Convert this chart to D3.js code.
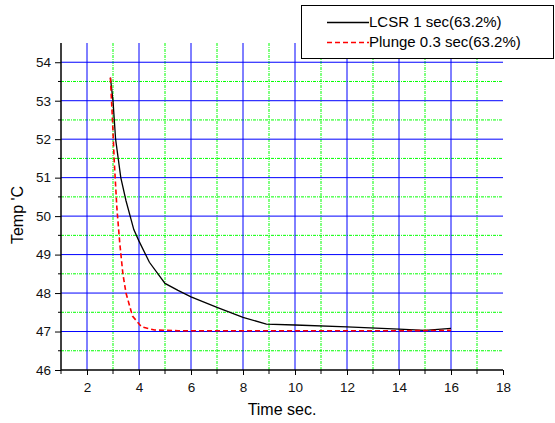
<!DOCTYPE html>
<html>
<head>
<meta charset="utf-8">
<script src="https://cdn.jsdelivr.net/npm/d3@7"></script>
<style>
body { margin: 0; background: #fff; }
text { font-family: Arial, "Liberation Sans", sans-serif; }
</style>
</head>
<body>
<div id="canvas"></div>
<script>
"use strict"

/* Data */
let lcsrTime = [2.9, 3.0, 3.1, 3.3, 3.5, 3.8, 4.0, 4.4, 5.0, 5.5, 6.0, 7.0, 8.0, 8.9, 10, 12, 14, 15, 16];
let lcsrTemp = [53.6, 53.0, 52.0, 51.0, 50.4, 49.65, 49.35, 48.8, 48.25, 48.07, 47.9, 47.63, 47.37, 47.19, 47.17, 47.12, 47.06, 47.03, 47.08];
let plungeTime = [2.9, 2.98, 3.05, 3.15, 3.26, 3.38, 3.5, 3.75, 4.1, 4.6, 5.5, 8, 10, 12, 14, 16];
let plungeTemp = [53.6, 52.5, 51.4, 50.2, 49.3, 48.5, 48.0, 47.4, 47.12, 47.04, 47.02, 47.02, 47.02, 47.02, 47.02, 47.03];
let xMajor = [2, 4, 6, 8, 10, 12, 14, 16, 18];
let xMinor = [1, 3, 5, 7, 9, 11, 13, 15, 17];
let yMajor = [46, 47, 48, 49, 50, 51, 52, 53, 54];
let yMinor = [46.5, 47.5, 48.5, 49.5, 50.5, 51.5, 52.5, 53.5];
let legendNames = ["LCSR 1 sec(63.2%)", "Plunge 0.3 sec(63.2%)"];

/* Drawing config */
let svgWidth = 555;
let svgHeight = 423;
let plotLeft = 61, plotRight = 503, plotTop = 43, plotBottom = 370;

let svg = d3.select("#canvas")
    .append("svg")
    .attr("width", svgWidth)
    .attr("height", svgHeight);

let xScale = d3.scaleLinear().domain([1, 18]).range([plotLeft, plotRight]);
let yScale = d3.scaleLinear().domain([46, 54.5]).range([plotBottom, plotTop]);

/* minor grid (green dotted) */
svg.append("g").selectAll("line")
    .data(xMinor.filter(d => d > 1))
    .join("line")
    .attr("x1", d => xScale(d)).attr("x2", d => xScale(d))
    .attr("y1", plotTop).attr("y2", plotBottom)
    .attr("stroke", "#00ff00").attr("stroke-dasharray", "3,1,1,1");

svg.append("g").selectAll("line")
    .data(yMinor)
    .join("line")
    .attr("x1", plotLeft).attr("x2", plotRight)
    .attr("y1", d => yScale(d)).attr("y2", d => yScale(d))
    .attr("stroke", "#00ff00").attr("stroke-dasharray", "3,1,1,1");

/* major grid (blue) */
svg.append("g").selectAll("line")
    .data(xMajor.filter(d => d < 18))
    .join("line")
    .attr("x1", d => xScale(d)).attr("x2", d => xScale(d))
    .attr("y1", plotTop).attr("y2", plotBottom)
    .attr("stroke", "#0000ff");

svg.append("g").selectAll("line")
    .data(yMajor.filter(d => d > 46))
    .join("line")
    .attr("x1", plotLeft).attr("x2", plotRight)
    .attr("y1", d => yScale(d)).attr("y2", d => yScale(d))
    .attr("stroke", "#0000ff");

/* series */
let line = d3.line()
    .x(d => xScale(d[0]))
    .y(d => yScale(d[1]));

svg.append("path")
    .datum(d3.zip(lcsrTime, lcsrTemp))
    .attr("d", line)
    .attr("fill", "none")
    .attr("stroke", "black")
    .attr("stroke-width", 1.3);

svg.append("path")
    .datum(d3.zip(plungeTime, plungeTemp))
    .attr("d", line)
    .attr("fill", "none")
    .attr("stroke", "#ff0000")
    .attr("stroke-width", 1.6)
    .attr("stroke-dasharray", "5,3");

/* axes */
let xAxis = svg.append("g")
    .attr("transform", "translate(0," + plotBottom + ")")
    .call(d3.axisBottom(xScale).tickValues(xMajor).tickSize(5).tickSizeOuter(0).tickFormat(d3.format("d")));
xAxis.append("g").selectAll("line")
    .data(xMinor)
    .join("line")
    .attr("x1", d => xScale(d)).attr("x2", d => xScale(d))
    .attr("y1", 0).attr("y2", 4)
    .attr("stroke", "black");

let yAxis = svg.append("g")
    .attr("transform", "translate(" + plotLeft + ",0)")
    .call(d3.axisLeft(yScale).tickValues(yMajor).tickSize(6).tickSizeOuter(0).tickFormat(d3.format("d")));
yAxis.append("g").selectAll("line")
    .data(yMinor)
    .join("line")
    .attr("x1", 0).attr("x2", -3)
    .attr("y1", d => yScale(d)).attr("y2", d => yScale(d))
    .attr("stroke", "black");

svg.selectAll(".domain").attr("stroke-width", 1.5);
xAxis.selectAll(".tick text").attr("font-size", 13.5).attr("fill", "#111").attr("dy", "1.05em");
yAxis.selectAll(".tick text").attr("font-size", 13.5).attr("fill", "#111").attr("x", -10);
yAxis.select(".domain").attr("d", "M0," + plotBottom + "V" + plotTop);
xAxis.select(".domain").attr("d", "M" + plotLeft + ",0H" + plotRight);

/* axis labels */
svg.append("text")
    .attr("x", (plotLeft + plotRight) / 2)
    .attr("y", 415)
    .attr("text-anchor", "middle")
    .attr("font-size", 16)
    .text("Time sec.");

svg.append("text")
    .attr("transform", "translate(23,215) rotate(-90)")
    .attr("text-anchor", "middle")
    .attr("font-size", 16)
    .text("Temp 'C");

/* legend */
let legend = svg.append("g");
legend.append("rect")
    .attr("x", 301.5).attr("y", 5.5)
    .attr("width", 252).attr("height", 53)
    .attr("fill", "white")
    .attr("stroke", "black");

let legendStyles = [
    { color: "black", dash: null, width: 1.3 },
    { color: "#ff0000", dash: "5,3", width: 1.5 }
];
for (let i = 0; i < 2; i++) {
    legend.append("line")
        .attr("x1", 327).attr("x2", 369)
        .attr("y1", 22.5 + i * 20).attr("y2", 22.5 + i * 20)
        .attr("stroke", legendStyles[i].color)
        .attr("stroke-width", legendStyles[i].width)
        .attr("stroke-dasharray", legendStyles[i].dash);
    legend.append("text")
        .attr("x", 369)
        .attr("y", 27 + i * 20)
        .attr("font-size", 15)
        .text(legendNames[i]);
}
</script>
</body>
</html>
